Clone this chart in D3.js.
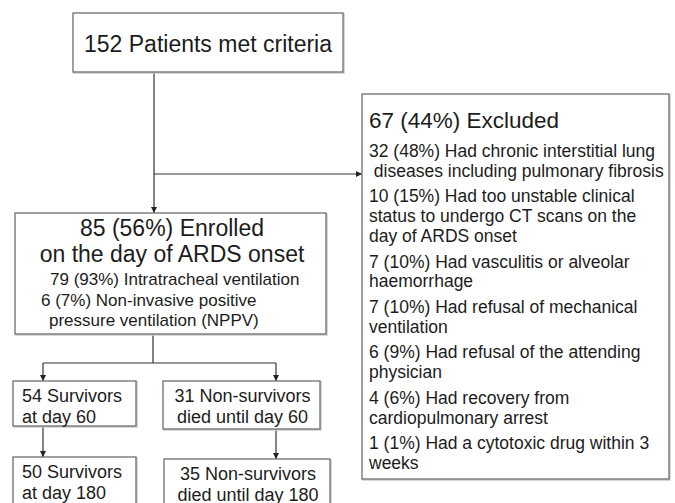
<!DOCTYPE html>
<html>
<head>
<meta charset="utf-8">
<script src="https://cdn.jsdelivr.net/npm/d3@7"></script>
<style>
  body { margin: 0; background: #fff; }
  svg text { font-family: "Liberation Sans", Arial, Helvetica, sans-serif; fill: #1c1c1c; white-space: pre; }
</style>
</head>
<body>
<svg id="flow" width="675" height="503"></svg>
<script>
// flow chart content
var screened = "152 Patients met criteria";
var enrolledHead = ["85 (56%) Enrolled", "on the day of ARDS onset"];
var enrolledSub = ["79 (93%) Intratracheal ventilation", "6 (7%) Non-invasive positive", "pressure ventilation (NPPV)"];
var excludedHead = "67 (44%) Excluded";
var excludedReasons = [
  ["32 (48%) Had chronic interstitial lung", " diseases including pulmonary fibrosis"],
  ["10 (15%) Had too unstable clinical", "status to undergo CT scans on the", "day of ARDS onset"],
  ["7 (10%) Had vasculitis or alveolar", "haemorrhage"],
  ["7 (10%) Had refusal of mechanical", "ventilation"],
  ["6 (9%) Had refusal of the attending", "physician"],
  ["4 (6%) Had recovery from", "cardiopulmonary arrest"],
  ["1 (1%) Had a cytotoxic drug within 3", "weeks"]
];
var day60 = [["54 Survivors", "at day 60"], ["31 Non-survivors", "died until day 60"]];
var day180 = [["50 Survivors", "at day 180"], ["35 Non-survivors", "died until day 180"]];

var svg = d3.select("#flow");

svg.append("defs").append("marker")
    .attr("id", "arr")
    .attr("viewBox", "0 0 10 10")
    .attr("refX", 10).attr("refY", 5)
    .attr("markerWidth", 6).attr("markerHeight", 6)
    .attr("markerUnits", "userSpaceOnUse")
    .attr("orient", "auto")
  .append("path")
    .attr("d", "M0,0L10,5L0,10z")
    .attr("fill", "#222");

function box(x, y, w, h) {
  svg.append("rect")
      .attr("x", x + 1).attr("y", y + 1)
      .attr("width", w).attr("height", h)
      .attr("fill", "none").attr("stroke", "#ccc").attr("stroke-width", 1.5);
  svg.append("rect")
      .attr("x", x).attr("y", y)
      .attr("width", w).attr("height", h)
      .attr("fill", "#fff").attr("stroke", "#6e6e6e").attr("stroke-width", 1.3);
}

function line(pts, arrow) {
  var p = svg.append("path")
      .attr("d", d3.line()(pts))
      .attr("fill", "none").attr("stroke", "#333").attr("stroke-width", 1.2);
  if (arrow) p.attr("marker-end", "url(#arr)");
}

// connectors
line([[154, 72], [154, 213]], true);
line([[154, 174], [362, 174]], true);
line([[153, 334], [153, 363]], false);
line([[43, 363], [276, 363]], false);
line([[43, 363], [43, 381]], true);
line([[276, 363], [276, 381]], true);
line([[43, 426], [43, 457]], true);
line([[276, 429], [276, 459]], true);

// top box
box(73, 13, 270, 59);
svg.append("text")
    .attr("x", 208).attr("y", 52)
    .attr("text-anchor", "middle")
    .style("font-size", "23px")
    .text(screened);

// enrolled box
box(15, 213, 311, 121);
svg.selectAll(".eh").data(enrolledHead).enter().append("text")
    .attr("class", "eh")
    .attr("x", 172).attr("y", function(d, i) { return 236 + i * 26; })
    .attr("text-anchor", "middle")
    .style("font-size", "23px")
    .text(function(d) { return d; });
var subX = [50, 41, 49];
svg.selectAll(".es").data(enrolledSub).enter().append("text")
    .attr("class", "es")
    .attr("x", function(d, i) { return subX[i]; })
    .attr("y", function(d, i) { return 285 + i * 20.5; })
    .style("font-size", "17px")
    .text(function(d) { return d; });

// excluded box
box(362, 94, 307, 385);
svg.append("text")
    .attr("x", 369).attr("y", 128)
    .style("font-size", "22.5px")
    .text(excludedHead);
var lh = 19.8, gap = 5.8, yy = 157;
excludedReasons.forEach(function(r) {
  svg.append("text")
      .attr("x", 369).attr("y", yy)
      .style("font-size", "17.5px")
    .selectAll("tspan").data(r).enter().append("tspan")
      .attr("x", 369)
      .attr("dy", function(d, i) { return i ? lh : 0; })
      .text(function(d) { return d; });
  yy += r.length * lh + gap;
});

// outcome boxes
var outBoxes = [
  {x: 13, y: 381, w: 123, h: 45, t: day60[0], align: "start"},
  {x: 163, y: 381, w: 157, h: 48, t: day60[1], align: "middle"},
  {x: 13, y: 457, w: 123, h: 60, t: day180[0], align: "start"},
  {x: 164, y: 459, w: 166, h: 60, t: day180[1], align: "middle"}
];
outBoxes.forEach(function(b) {
  box(b.x, b.y, b.w, b.h);
  svg.selectAll(null).data(b.t).enter().append("text")
      .attr("x", b.align == "start" ? b.x + 9 : b.x + b.w / 2 + 1)
      .attr("y", function(d, i) { return b.y + 21 + i * 20.5; })
      .attr("text-anchor", b.align)
      .style("font-size", "18px")
      .text(function(d) { return d; });
});
</script>
</body>
</html>
